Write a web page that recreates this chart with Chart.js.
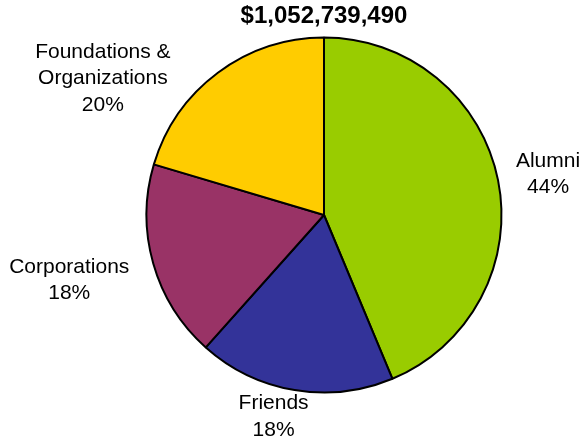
<!DOCTYPE html>
<html>
<head>
<meta charset="utf-8">
<script src="https://cdn.jsdelivr.net/npm/chart.js@4"></script>
<style>
  html, body { margin: 0; padding: 0; background: #fff; }
  #wrap { width: 585px; height: 440px; }
</style>
</head>
<body>
<div id="wrap"><canvas id="pie"></canvas></div>
<script>
// Giving by source (share of total, %)
const totalLabel = '$1,052,739,490';
const sources = ['Alumni', 'Friends', 'Corporations', 'Foundations &\nOrganizations'];
const shares = [43.7, 17.9, 18.0, 20.4];
const sliceColors = ['#99CC00', '#333399', '#993366', '#FFCC00'];

// label nudges from the slice edge midpoint, per slice
const labelNudge = [[50, -6], [-21, 26.5], [-84, 17], [-115, 5.5]];

const sliceLabels = {
    id: 'sliceLabels',
    afterDatasetsDraw(chart) {
        const ctx = chart.ctx;
        const meta = chart.getDatasetMeta(0);
        ctx.save();
        ctx.fillStyle = '#000';
        ctx.font = '21px "Liberation Sans", Arial, sans-serif';
        ctx.textAlign = 'center';
        ctx.textBaseline = 'middle';
        meta.data.forEach((arc, i) => {
            const p = arc.getProps(['x', 'y', 'startAngle', 'endAngle', 'outerRadius'], true);
            const mid = (p.startAngle + p.endAngle) / 2;
            const cx = p.x + Math.cos(mid) * p.outerRadius + labelNudge[i][0];
            const cy = p.y + Math.sin(mid) * p.outerRadius + labelNudge[i][1];
            const lines = sources[i].split('\n').concat(Math.round(shares[i]) + '%');
            const lh = 26.5;
            lines.forEach((txt, k) => {
                ctx.fillText(txt, cx, cy + (k - (lines.length - 1) / 2) * lh);
            });
        });
        ctx.restore();
    }
};

new Chart(document.getElementById('pie'), {
    type: 'pie',
    data: {
        labels: sources,
        datasets: [{
            data: shares,
            backgroundColor: sliceColors,
            borderColor: '#000',
            borderWidth: 2
        }]
    },
    options: {
        responsive: true,
        maintainAspectRatio: false,
        animation: false,
        layout: { padding: { top: 0, bottom: 46.5, left: 145.5, right: 82.5 } },
        plugins: {
            legend: { display: false },
            tooltip: { enabled: false },
            title: {
                display: true,
                text: totalLabel,
                color: '#000',
                font: { family: '"Liberation Sans", Arial, sans-serif', size: 24, weight: 'bold' },
                padding: { top: 2, bottom: 5.7 }
            }
        }
    },
    plugins: [sliceLabels]
});
</script>
</body>
</html>
